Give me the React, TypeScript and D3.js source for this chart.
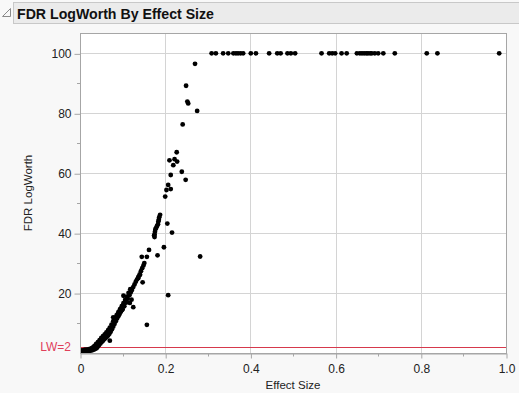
import React, { useEffect, useRef } from 'react';
import * as d3 from 'd3';

// --- chart values ---
const TITLE = 'FDR LogWorth By Effect Size';
const X_LABEL = 'Effect Size';
const Y_LABEL = 'FDR LogWorth';
const X_TICKS = [0, 0.2, 0.4, 0.6, 0.8, 1.0];
const X_TICK_LABELS = ['0', '0.2', '0.4', '0.6', '0.8', '1.0'];
const X_MINOR = [0.1, 0.3, 0.5, 0.7, 0.9];
const Y_TICKS = [20, 40, 60, 80, 100];
const Y_MINOR = [10, 30, 50, 70, 90];
const REF_LINE = 2;
const REF_LABEL = 'LW=2';

// dense lower curve, two bands
const curveX = [0.000, 0.003, 0.006, 0.009, 0.012, 0.015, 0.018, 0.021, 0.024, 0.027, 0.030, 0.033, 0.036,
  0.001, 0.005, 0.010, 0.014, 0.019, 0.023, 0.028, 0.032, 0.035,
  0.039, 0.042, 0.045, 0.048, 0.051, 0.054, 0.057, 0.060, 0.063, 0.066, 0.069, 0.072, 0.075, 0.078,
  0.081, 0.084, 0.087, 0.090, 0.093, 0.096, 0.099, 0.100, 0.104, 0.108, 0.112, 0.116, 0.119, 0.122,
  0.125, 0.128, 0.131, 0.134, 0.137, 0.140, 0.143, 0.146, 0.149, 0.151];
const curveY = [0.2, 0.3, 0.3, 0.4, 0.5, 0.5, 0.6, 0.7, 0.8, 0.9, 1.0, 1.2, 1.4,
  0.8, 0.9, 1.0, 1.1, 1.2, 1.4, 1.6, 1.9, 2.2,
  1.6, 2.2, 2.7, 3.2, 3.7, 4.1, 4.6, 5.0, 5.4, 5.8, 6.4, 7.1, 7.9, 8.8,
  9.7, 10.6, 11.5, 12.3, 13.0, 13.8, 14.4, 14.6, 15.6, 16.8, 18.1, 19.3, 20.2, 21.0,
  22.0, 22.9, 23.8, 24.6, 25.4, 26.2, 27.3, 28.3, 29.2, 30.0];

const bandX = [0.030, 0.034, 0.038, 0.042, 0.046, 0.050, 0.054, 0.058, 0.062, 0.066, 0.070, 0.074,
  0.078, 0.082, 0.086, 0.090, 0.094, 0.098, 0.102, 0.106, 0.110, 0.114, 0.118];
const bandY = [1.8, 2.4, 3.0, 3.6, 4.3, 5.0, 5.6, 6.2, 6.9, 7.6, 8.5, 9.5,
  10.6, 11.6, 12.6, 13.6, 14.6, 15.6, 16.6, 17.7, 18.8, 20.1, 21.3];

// upper part of the curve and scattered points
const scatterX = [0.162, 0.174, 0.175, 0.175, 0.176, 0.177, 0.179, 0.181, 0.183, 0.184, 0.185, 0.186, 0.188,
  0.270, 0.249, 0.252, 0.254, 0.275, 0.241, 0.227, 0.222, 0.228, 0.210, 0.219, 0.213, 0.239, 0.248,
  0.207, 0.203, 0.213, 0.200, 0.205, 0.216, 0.197, 0.282, 0.207, 0.157, 0.182, 0.145, 0.157,
  0.102, 0.125, 0.117, 0.121, 0.078, 0.070, 0.095, 0.098, 0.147, 0.141, 0.137];
const scatterY = [34.4, 39.2, 38.7, 39.6, 40.5, 41.3, 41.8, 42.4, 43.0, 43.9, 44.5, 45.3, 46.1,
  96.5, 89.2, 83.9, 83.3, 80.8, 76.3, 67.0, 64.7, 63.9, 64.3, 62.7, 59.4, 60.5, 57.8,
  56.1, 54.4, 54.7, 52.2, 43.2, 40.2, 35.3, 32.2, 19.3, 9.4, 32.6, 32.1, 32.1,
  19.1, 15.3, 16.7, 17.8, 11.9, 4.1, 13.9, 14.4, 23.6, 26.1, 25.0];

// capped at 100
const cappedX = [0.309, 0.319, 0.336, 0.348, 0.360, 0.366, 0.371, 0.377, 0.383, 0.401, 0.413, 0.444,
  0.463, 0.471, 0.487, 0.495, 0.505, 0.567, 0.585, 0.592, 0.599, 0.614, 0.626, 0.650, 0.657, 0.662,
  0.667, 0.672, 0.676, 0.681, 0.685, 0.692, 0.700, 0.712, 0.739, 0.814, 0.839, 0.984];
const CAP = 100;

const W = 519, H = 393;
const PL = 80, PR = 506, PT = 33, PB = 353;

export default function App() {
  const svgRef = useRef<SVGSVGElement>(null);

  useEffect(() => {
    if (!svgRef.current) return;
    const svg = d3.select(svgRef.current);
    svg.selectAll('*').remove();

    const x = d3.scaleLinear().domain([0, 1]).range([PL, PR]);
    const y = d3.scaleLinear().domain([0, 106.8]).range([PB, PT]);
    const font = '"Liberation Sans", Arial, sans-serif';

    // --- background + header ---
    svg.append('rect').attr('width', W).attr('height', H).attr('fill', '#f8f8f8');
    svg.append('rect').attr('x', 13.5).attr('y', 2.5).attr('width', 520).attr('height', 21)
      .attr('fill', '#ebebeb').attr('stroke', '#c8c8c8');
    svg.append('path').attr('d', 'M2.5,16.5 L10.5,16.5 L10.5,8.5 Z')
      .attr('fill', 'none').attr('stroke', '#8a8a8a');
    svg.append('text').attr('x', 17).attr('y', 18.5).text(TITLE)
      .attr('font-family', font).attr('font-weight', 'bold').attr('font-size', 15)
      .attr('fill', '#111').attr('textLength', 197).attr('lengthAdjust', 'spacingAndGlyphs');

    // --- plot frame + grid ---
    svg.append('rect').attr('x', PL).attr('y', PT).attr('width', PR - PL).attr('height', PB - PT)
      .attr('fill', '#fff');
    const grid = svg.append('g').attr('stroke', '#d4d4d4').attr('shape-rendering', 'crispEdges');
    grid.selectAll('line.gx').data(X_TICKS.slice(1, -1)).join('line')
      .attr('x1', d => Math.round(x(d)) + 0.5).attr('x2', d => Math.round(x(d)) + 0.5)
      .attr('y1', PT).attr('y2', PB);
    grid.selectAll('line.gy').data(Y_TICKS).join('line')
      .attr('y1', d => Math.round(y(d)) + 0.5).attr('y2', d => Math.round(y(d)) + 0.5)
      .attr('x1', PL).attr('x2', PR);

    // reference line
    svg.append('line').attr('x1', PL).attr('x2', PR)
      .attr('y1', Math.round(y(REF_LINE)) + 0.5).attr('y2', Math.round(y(REF_LINE)) + 0.5)
      .attr('stroke', '#d6394c').attr('stroke-width', 1.2);

    // --- points ---
    svg.append('clipPath').attr('id', 'plotclip').append('rect')
      .attr('x', PL).attr('y', PT).attr('width', PR - PL).attr('height', PB - PT);
    const pts: [number, number][] = [];
    curveX.forEach((v, i) => pts.push([v, curveY[i]]));
    bandX.forEach((v, i) => pts.push([v, bandY[i]]));
    scatterX.forEach((v, i) => pts.push([v, scatterY[i]]));
    cappedX.forEach(v => pts.push([v, CAP]));
    svg.append('g').attr('clip-path', 'url(#plotclip)')
      .selectAll('circle').data(pts).join('circle')
      .attr('cx', d => x(d[0])).attr('cy', d => y(d[1])).attr('r', 2.4).attr('fill', '#000');

    // frame border on top
    svg.append('rect').attr('x', PL + 0.5).attr('y', PT + 0.5).attr('width', PR - PL).attr('height', PB - PT)
      .attr('fill', 'none').attr('stroke', '#a6a6a6');

    // --- axes ---
    const xAxis = d3.axisBottom(x).tickValues(X_TICKS).tickSize(5).tickSizeOuter(0)
      .tickFormat((d, i) => X_TICK_LABELS[i]);
    const gx = svg.append('g').attr('transform', `translate(0.5,${PB + 0.5})`).call(xAxis);
    gx.select('.domain').attr('stroke', '#a6a6a6');
    gx.selectAll('.tick line').attr('stroke', '#a6a6a6');
    gx.selectAll('.tick text').attr('font-family', font).attr('font-size', 12).attr('fill', '#222').attr('dy', '0.95em');
    svg.append('g').selectAll('line').data(X_MINOR).join('line')
      .attr('x1', d => Math.round(x(d)) + 0.5).attr('x2', d => Math.round(x(d)) + 0.5)
      .attr('y1', PB).attr('y2', PB + 3.5).attr('stroke', '#a6a6a6');

    const yAxis = d3.axisLeft(y).tickValues(Y_TICKS).tickSize(6).tickSizeOuter(0).tickFormat(d3.format('d'));
    const gy = svg.append('g').attr('transform', `translate(${PL + 0.5},0.5)`).call(yAxis);
    gy.select('.domain').remove();
    gy.selectAll('.tick line').attr('stroke', '#a6a6a6');
    gy.selectAll('.tick text').attr('font-family', font).attr('font-size', 12).attr('fill', '#222').attr('x', -9);
    svg.append('g').selectAll('line').data(Y_MINOR).join('line')
      .attr('y1', d => Math.round(y(d)) + 0.5).attr('y2', d => Math.round(y(d)) + 0.5)
      .attr('x1', PL - 3).attr('x2', PL).attr('stroke', '#a6a6a6');

    svg.append('text').attr('x', PL - 9).attr('y', y(REF_LINE)).attr('dy', '0.36em')
      .attr('text-anchor', 'end').attr('font-family', font).attr('font-size', 12)
      .attr('fill', '#e0405a').text(REF_LABEL);

    // --- axis titles ---
    svg.append('text').attr('x', (PL + PR) / 2).attr('y', 389).attr('text-anchor', 'middle')
      .attr('font-family', font).attr('font-size', 11.5).attr('fill', '#222').text(X_LABEL);
    svg.append('text').attr('transform', `translate(32,${(PT + PB) / 2}) rotate(-90)`)
      .attr('text-anchor', 'middle').attr('font-family', font).attr('font-size', 11.5)
      .attr('fill', '#222').text(Y_LABEL);
  }, []);

  return (
    <svg ref={svgRef} width={W} height={H}
      style={{ position: 'absolute', left: 0, top: 0, display: 'block' }} />
  );
}
